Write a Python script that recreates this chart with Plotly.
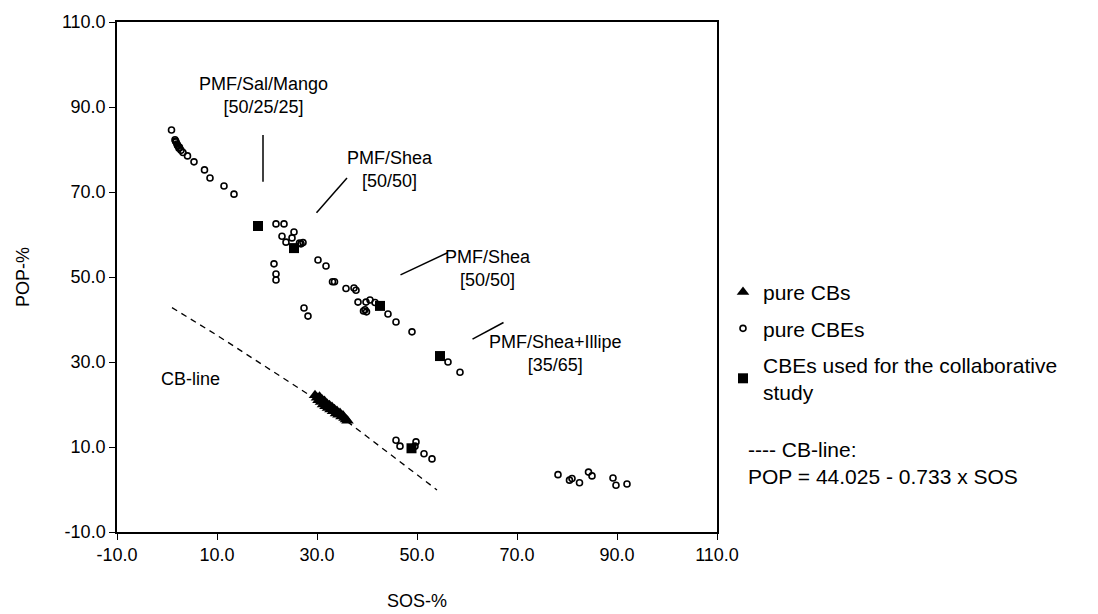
import plotly.graph_objects as go

# ---------------- data ----------------
# pure cocoa butters (triangles)
cb_sos = [29.6, 30.0, 30.3, 30.5, 30.8, 31.0, 31.2, 31.5, 31.7, 32.0, 32.2, 32.5,
          32.7, 33.0, 33.2, 33.5, 33.8, 34.0, 34.3, 34.6, 34.9, 35.2, 35.5, 35.8, 36.1]
cb_pop = [22.2, 21.6, 21.0, 21.8, 20.6, 21.2, 20.0, 20.8, 19.6, 20.2, 19.2, 19.8,
          18.8, 19.4, 18.4, 18.9, 17.9, 18.5, 17.6, 18.0, 17.2, 17.4, 16.8, 16.5, 16.2]

# pure CBEs (open circles)
cbe_sos = [0.9, 1.6, 1.7, 1.8, 2.0, 2.1, 2.2, 2.4, 2.5, 2.8, 3.2, 4.1, 5.4, 7.5, 8.6, 11.4, 13.4,
           21.8, 23.4, 25.4, 23.0, 25.0, 23.8, 26.5, 27.2, 26.8,
           21.4, 21.8, 21.8, 30.2, 31.8, 33.1, 33.5, 35.8, 37.4, 37.8,
           27.4, 28.2, 38.2, 39.8, 40.6, 39.3, 39.9, 39.6, 41.6, 44.2, 45.8, 49.0,
           56.2, 58.6,
           45.8, 46.6, 49.8, 49.6, 51.4, 53.0,
           78.2, 80.5, 81.0, 82.5, 84.3, 85.0, 89.2, 89.8, 92.0]
cbe_pop = [84.6, 82.3, 82.0, 81.8, 81.3, 81.0, 80.8, 80.3, 80.5, 79.8, 79.3, 78.5, 77.1, 75.2, 73.3, 71.4, 69.5,
           62.5, 62.5, 60.6, 59.6, 59.2, 58.2, 58.0, 58.1, 57.8,
           53.1, 50.7, 49.3, 54.0, 52.6, 48.9, 48.9, 47.3, 47.4, 46.9,
           42.7, 40.8, 44.1, 44.1, 44.6, 42.0, 41.8, 42.3, 44.0, 41.3, 39.4, 37.1,
           30.0, 27.6,
           11.6, 10.2, 11.2, 10.2, 8.4, 7.2,
           3.5, 2.2, 2.6, 1.6, 4.1, 3.2, 2.7, 1.0, 1.3]

# CBEs used for the collaborative study (filled squares)
study_sos = [18.2, 25.4, 42.6, 54.6, 48.9]
study_pop = [62.0, 56.8, 43.2, 31.4, 9.7]

# CB-line (dashed)
line_sos = [1.0, 10.0, 18.0, 25.0, 29.3, 36.6, 45.0, 54.0]
line_pop = [42.8, 36.3, 30.2, 24.8, 21.6, 15.5, 8.0, -0.1]

tick_vals = [-10, 10, 30, 50, 70, 90, 110]
tick_text = ["-10.0", "10.0", "30.0", "50.0", "70.0", "90.0", "110.0"]

# annotation texts and positions (data units)
label_texts = ["PMF/Sal/Mango<br>[50/25/25]", "PMF/Shea<br>[50/50]",
               "PMF/Shea<br>[50/50]", "PMF/Shea+Illipe<br>[35/65]", "CB-line"]
label_x = [19.2, 44.6, 64.2, 77.6, 4.6]
label_y = [92.8, 75.2, 51.9, 32.0, 26.0]

# leader lines: (x0, y0, x1, y1)
leader_x0 = [19.2, 29.9, 46.7, 61.1]
leader_y0 = [83.4, 65.1, 50.5, 35.4]
leader_x1 = [19.2, 36.0, 56.1, 67.3]
leader_y1 = [72.4, 73.3, 55.7, 39.3]

FONT = "Liberation Sans, Arial, sans-serif"
FS = 18
FS_LEG = 21

fig = go.Figure()

fig.add_trace(go.Scatter(
    x=line_sos, y=line_pop, mode="lines",
    line=dict(color="black", width=1.3, dash="6px,5px"),
    showlegend=False, hoverinfo="skip"))

fig.add_trace(go.Scatter(
    x=cb_sos, y=cb_pop, mode="markers", name="pure CBs", legendgroup="a",
    marker=dict(symbol="triangle-up", size=11, color="black")))

fig.add_trace(go.Scatter(
    x=cbe_sos, y=cbe_pop, mode="markers", name="pure CBEs", legendgroup="b",
    marker=dict(symbol="circle-open", size=6, color="black", line=dict(width=1.6, color="black"))))

fig.add_trace(go.Scatter(
    x=study_sos, y=study_pop, mode="markers",
    name="CBEs used for the collaborative<br>study", legendgroup="c",
    marker=dict(symbol="square", size=10, color="black")))

for x0, y0, x1, y1 in zip(leader_x0, leader_y0, leader_x1, leader_y1):
    fig.add_shape(type="line", xref="x", yref="y", x0=x0, y0=y0, x1=x1, y1=y1,
                  line=dict(color="black", width=1.5))

for t, x, y in zip(label_texts, label_x, label_y):
    fig.add_annotation(text=t, x=x, y=y, xref="x", yref="y", showarrow=False,
                       font=dict(family=FONT, size=FS, color="black"), align="center")

fig.add_annotation(text="---- CB-line:<br>POP = 44.025 - 0.733 x SOS",
                   xref="paper", yref="paper", x=1.048, y=0.135,
                   xanchor="left", yanchor="middle", align="left", showarrow=False,
                   font=dict(family=FONT, size=FS_LEG, color="black"))

axis_common = dict(
    showline=True, linecolor="black", linewidth=1.5, mirror=True,
    showgrid=False, zeroline=False, ticks="outside", ticklen=6,
    tickcolor="black", tickwidth=1.3, automargin=False,
    tickfont=dict(family=FONT, size=FS, color="black"),
    tickvals=tick_vals, ticktext=tick_text,
)

fig.update_layout(
    width=1098, height=614,
    margin=dict(l=117, r=381, t=22, b=82, autoexpand=False),
    paper_bgcolor="white", plot_bgcolor="white",
    font=dict(family=FONT, size=FS, color="black"),
    xaxis=dict(range=[-10, 110], title=dict(text="SOS-%", standoff=30,
               font=dict(family=FONT, size=FS)), **axis_common),
    yaxis=dict(range=[-10, 110], title=dict(text="POP-%", standoff=28,
               font=dict(family=FONT, size=FS)), **axis_common),
    legend=dict(x=1.01, y=0.51, xanchor="left", yanchor="top",
                font=dict(family=FONT, size=FS_LEG, color="black"),
                itemwidth=30, tracegroupgap=6, bgcolor="rgba(0,0,0,0)"),
    showlegend=True,
)

fig.write_html("out.html")
